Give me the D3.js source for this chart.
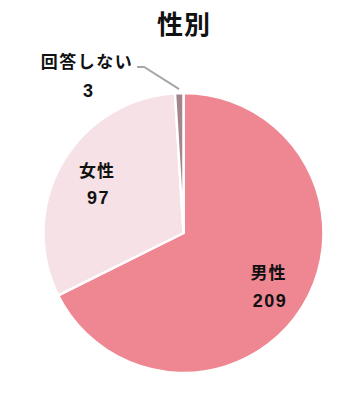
<!DOCTYPE html>
<html><head><meta charset="utf-8">
<script src="https://cdn.jsdelivr.net/npm/d3@7"></script>
<style>
html,body{margin:0;padding:0;background:#fff;}
svg{display:block;font-family:"Noto Sans CJK JP","Noto Sans",sans-serif;}
</style></head><body>
<svg id="c" width="362" height="393"></svg>
<script>
const title = "性別";
const categories = ["男性", "女性", "回答しない"];
const values = [209, 97, 3];
const colors = ["#EF8792", "#F5E1E6", "#A3868D"];

const svg = d3.select("#c");
const cx = 183.5, cy = 233, R = 140;
const numFont = "'Liberation Sans', Arial, sans-serif";

svg.append("text").attr("x", 184).attr("y", 22).attr("text-anchor", "middle")
  .attr("dominant-baseline", "central").attr("font-size", 26).attr("font-weight", 700)
  .attr("letter-spacing", 1).attr("fill", "#111").text(title);

const data = categories.map((c, i) => ({cat: c, val: values[i], col: colors[i]}));
const pie = d3.pie().value(d => d.val).sort(null);
const arcs = pie(data);
const arc = d3.arc().innerRadius(0).outerRadius(R);
const labelArc = d3.arc().innerRadius(100).outerRadius(100);
const outerArc = d3.arc().innerRadius(144).outerRadius(144);

const g = svg.append("g").attr("transform", `translate(${cx},${cy})`);
g.selectAll("path.s").data(arcs).join("path").attr("class", "s")
  .attr("d", arc).attr("fill", d => d.data.col)
  .attr("stroke", "#fff").attr("stroke-width", 2.5).attr("stroke-linejoin", "round");

arcs.forEach((a, i) => {
  const share = a.data.val / d3.sum(values);
  if (share > 0.05) {
    const [x, y] = labelArc.centroid(a);
    g.append("text").attr("x", x).attr("y", y - 14).attr("text-anchor", "middle")
      .attr("dominant-baseline", "central").attr("font-size", 17).attr("font-weight", 700)
      .attr("letter-spacing", 1).attr("fill", "#111").text(a.data.cat);
    g.append("text").attr("x", x + 1.5).attr("y", y + 15).attr("text-anchor", "middle")
      .attr("dominant-baseline", "central").attr("font-size", 18).attr("font-weight", 700)
      .attr("font-family", numFont)
      .attr("letter-spacing", 1.5).attr("fill", "#111").text(a.data.val);
  } else {
    const [px, py] = outerArc.centroid(a);
    const ex = px - 35, ey = -166;
    g.append("polyline").attr("points", `${px},${py} ${ex},${ey} ${ex - 7},${ey}`)
      .attr("fill", "none").attr("stroke", "#A6A6A6").attr("stroke-width", 2);
    const lx = ex - 57;
    g.append("text").attr("x", lx).attr("y", ey - 7).attr("text-anchor", "middle")
      .attr("dominant-baseline", "central").attr("font-size", 17).attr("font-weight", 700)
      .attr("letter-spacing", 1.5).attr("fill", "#111").text(a.data.cat);
    g.append("text").attr("x", lx + 1).attr("y", ey + 24).attr("text-anchor", "middle")
      .attr("dominant-baseline", "central").attr("font-size", 18).attr("font-weight", 700)
      .attr("font-family", numFont).attr("fill", "#111").text(a.data.val);
  }
});
</script></body></html>
